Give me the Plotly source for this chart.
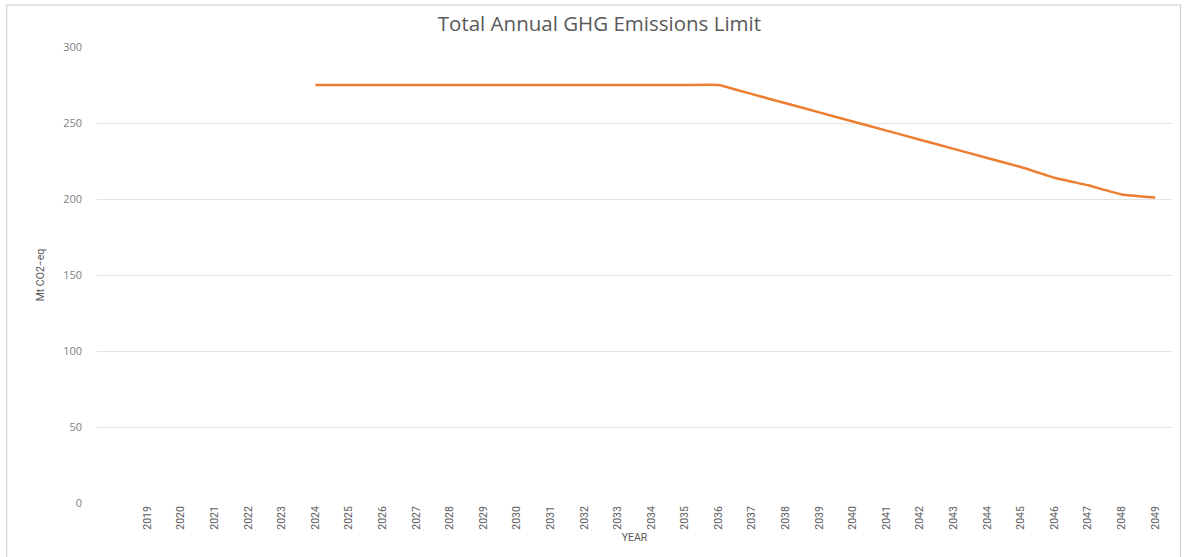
import plotly.graph_objects as go

years = list(range(2019, 2050))
limit = [None, None, None, None, None,
         275, 275, 275, 275, 275, 275, 275, 275, 275, 275, 275, 275, 275,
         269, 263, 257, 251, 245, 239, 233, 227, 221, 214, 209, 203, 201]
tick_labels = [str(y) for y in years]

fig = go.Figure()
fig.add_trace(go.Scatter(
    x=years, y=limit, mode="lines",
    line=dict(color="#ED7D31", width=2.5, shape="spline", smoothing=0.3),
    connectgaps=False, showlegend=False,
))

fig.update_layout(
    width=1187, height=557,
    margin=dict(l=97, r=15, t=47, b=54),
    paper_bgcolor="white", plot_bgcolor="white",
    title=dict(text="Total Annual GHG Emissions Limit", x=0.505, xanchor="center",
               y=0.958, yanchor="middle",
               font=dict(family="Open Sans", size=20.5, color="#595959")),
    xaxis=dict(range=[2017.5, 2049.5], tickmode="array", tickvals=years, ticktext=tick_labels,
               tickangle=-90, showgrid=False, zeroline=False, showline=False,
               tickfont=dict(family="Roboto", size=10.5, color="#595959"),
               title=dict(text="YEAR", font=dict(family="Roboto", size=10.5, color="#595959"), standoff=4)),
    yaxis=dict(range=[0, 300], tickvals=[0, 50, 100, 150, 200, 250, 300], showgrid=True,
               gridcolor="#e3e3e3", gridwidth=1, zeroline=False, showline=False,
               ticks="", ticklabelstandoff=14,
               tickfont=dict(family="Open Sans", size=11, color="#808080"),
               title=dict(text="Mt CO2\u2212eq", font=dict(family="Roboto", size=10.5, color="#595959"), standoff=16)),
    shapes=[dict(type="rect", xref="paper", yref="paper",
                 x0=-0.084, x1=1.008, y0=-0.2, y1=1.092,
                 line=dict(color="#c8c8c8", width=1), fillcolor="rgba(0,0,0,0)", layer="above")],
)

fig.write_html("out.html", config={"displayModeBar": False},
               post_script="document.body.style.margin='0';")
